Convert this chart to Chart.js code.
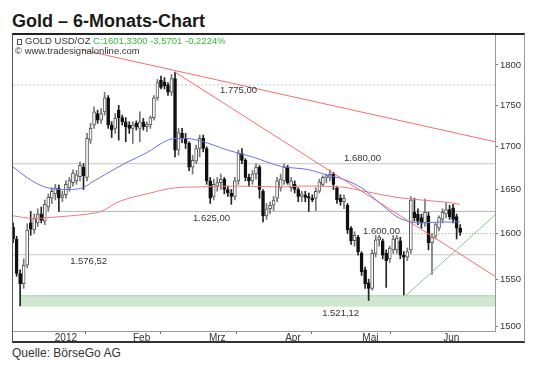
<!DOCTYPE html>
<html lang="de">
<head>
<meta charset="UTF-8" />
<title>Gold – 6-Monats-Chart</title>
<script src="https://cdn.jsdelivr.net/npm/chart.js"></script>
<style>
body {
  margin: 0;
  background: #fff;
  font-family: 'Liberation Sans', Arial, sans-serif;
}
#page { position: relative; width: 535px; height: 368px; overflow: hidden; }
h1 {
  position: absolute; left: 12px; top: 10px; margin: 0;
  font-size: 18px; line-height: 22px; font-weight: bold; color: #1a1a1a;
}
#frame {
  position: absolute; left: 12px; top: 33px; width: 513px; height: 310px;
  box-sizing: border-box;
  border-top: 2px solid #222; border-left: 1px solid #555;
  border-bottom: 2px solid #333; border-right: 1px solid #999;
  pointer-events: none; z-index: 2;
}
#chart { position: absolute; left: 13px; top: 35px; }
.legend {
  position: absolute; left: 16px; font-size: 9.5px; line-height: 11px;
  color: #333; white-space: nowrap; z-index: 3;
}
.legend .c { color: #33bb33; }
.ico {
  display: inline-block; width: 3px; height: 4px; border: 1px solid #555;
  margin: 0 3px 0 1px; vertical-align: -1px;
}
.source { position: absolute; left: 12px; top: 346px; font-size: 12px; line-height: 14px; color: #333; }
</style>
</head>
<body>
<div id="page">
  <h1>Gold – 6-Monats-Chart</h1>
  <canvas id="chart" width="511" height="306"></canvas>
  <div id="frame"></div>
  <div class="legend" style="top:35px"><span class="ico"></span>GOLD USD/OZ <span class="c">C:1601,3300 -3,5701 -0,2224%</span></div>
  <div class="legend" style="top:45px;left:15px">© www.tradesignalonline.com</div>
  <div class="source">Quelle: BörseGo AG</div>
</div>

<script>
// daily candles, index 0 = first trading day shown (late Dec 2011)
const opens = [
  1607,1594,1556,1545,1565,1612,1604,1612,1622,1614,1630,1640,1645,1651,1641,1644,1652,1658,1660,1665,
  1676,1664,1708,1726,1740,1732,1742,1759,1726,1722,1744,1735,1730,1726,1722,1728,1722,1730,1724,1726,
  1735,1759,1781,1779,1775,1766,1783,1696,1716,1710,1704,1676,1683,1698,1710,1698,1660,1642,1654,1658,
  1662,1650,1646,1642,1660,1692,1684,1664,1660,1668,1676,1648,1620,1628,1632,1640,1652,1660,1676,1652,
  1656,1650,1642,1644,1642,1640,1640,1648,1656,1664,1664,1668,1652,1640,1636,1632,1606,1592,1596,1578,
  1560,1546,1540,1578,1593,1592,1578,1572,1582,1582,1592,1576,1574,1582,1624,1622,1618,1612,1620,1590,
  1597,1606,1616,1622,1627,1629,1619,1606
];
const highs = [
  1612,1597,1560,1572,1611,1625,1622,1628,1630,1638,1645,1652,1656,1655,1648,1660,1664,1673,1672,1682,
  1680,1716,1728,1748,1744,1746,1766,1762,1730,1740,1750,1738,1735,1730,1730,1731,1742,1734,1730,1737,
  1762,1782,1786,1784,1778,1788,1791,1722,1722,1716,1706,1690,1702,1714,1714,1700,1664,1662,1664,1668,
  1664,1654,1650,1664,1696,1698,1686,1668,1672,1680,1678,1650,1634,1636,1642,1664,1668,1680,1678,1664,
  1660,1652,1648,1648,1646,1644,1652,1662,1666,1668,1673,1670,1654,1644,1644,1634,1608,1602,1598,1580,
  1563,1550,1582,1598,1598,1594,1582,1586,1598,1598,1596,1580,1584,1642,1640,1628,1622,1639,1624,1600,
  1612,1620,1628,1635,1632,1633,1622,1610
];
const lows = [
  1590,1553,1521.12,1540,1562,1598,1600,1608,1612,1610,1625,1634,1638,1625,1636,1640,1648,1654,1656,1660,
  1650,1660,1704,1722,1728,1728,1738,1722,1711,1716,1708,1726,1706,1716,1704,1720,1706,1720,1718,1722,
  1732,1756,1770,1770,1762,1762,1688,1690,1705,1698,1672,1668,1680,1688,1694,1656,1634,1638,1648,1650,
  1645,1642,1633,1638,1656,1680,1660,1654,1656,1662,1640,1613,1616,1622,1626,1636,1648,1656,1656,1648,
  1646,1636,1636,1636,1625,1636,1626,1646,1654,1658,1660,1650,1634,1632,1628,1600,1588,1586,1576,1554,
  1540,1527,1538,1574,1586,1572,1541,1568,1578,1578,1572,1533,1570,1578,1614,1610,1606,1608,1582,1555,
  1594,1603,1612,1618,1616,1612,1594,1598
];
const closes = [
  1594,1556,1545,1565,1604,1605,1617,1622,1615,1633,1641,1648,1652,1640,1644,1656,1661,1669,1667,1678,
  1666,1710,1722,1742,1732,1740,1759,1726,1720,1734,1735,1730,1724,1722,1726,1724,1730,1724,1727,1735,
  1759,1778,1772,1774,1766,1783,1696,1717,1710,1704,1676,1684,1698,1710,1698,1660,1640,1656,1658,1662,
  1650,1646,1642,1660,1692,1684,1664,1660,1668,1676,1650,1620,1628,1632,1638,1660,1662,1676,1658,1660,
  1650,1642,1645,1641,1640,1638,1648,1659,1664,1666,1668,1656,1638,1636,1640,1604,1592,1598,1580,1558,
  1545,1540,1578,1593,1596,1576,1570,1584,1594,1595,1576,1574,1580,1638,1618,1614,1612,1624,1590,1596,
  1610,1618,1624,1627,1619,1616,1606,1601.33
];

const monthStarts = [4, 26, 47, 69, 90, 113];
const monthCenters = [15, 36.5, 58, 79.5, 101.5, 124.5];
const monthNames = ['2012', 'Feb', 'Mrz', 'Apr', 'Mai', 'Jun'];
const priceTicks = [1500, 1550, 1600, 1650, 1700, 1750, 1800];

// moving averages
const maFastDays = [0, 5, 9, 14, 19, 23, 26, 32, 38, 43, 46, 49, 54, 61, 68, 76, 84, 89, 93, 99, 104, 109, 112, 116, 121, 127];
const maFastValues = [1676, 1661, 1653, 1650, 1651, 1660, 1667, 1681, 1693, 1706, 1710, 1710, 1706, 1696, 1688, 1677, 1673, 1667, 1663, 1652, 1635, 1619, 1614, 1612, 1613, 1613];
const maSlowDays = [0, 6, 13, 19, 25, 30, 39, 46, 53, 64, 76, 82, 93, 101, 109, 116, 124, 127];
const maSlowValues = [1620, 1617, 1619, 1621, 1625, 1636, 1646, 1652, 1653, 1654, 1653, 1654, 1653, 1647, 1641, 1638, 1635, 1633];

// horizontal levels
const levelValues = [1775, 1680, 1625, 1600, 1576.52];
const levelFrom = [0, 0, 13, 109, 0];
const levelTexts = ['1.775,00', '1.680,00', '1.625,00', '1.600,00', '1.576,52'];
const zoneLow = 1521.12;
const zoneHigh = 1532;
const zoneFrom = 2;
const zoneText = '1.521,12';

// trend lines
const xMin = -0.03;
const xMax = 136.9;
const trendUpperDays = [19.6, xMax];
const trendUpperValues = [1819, 1706];
const trendSteepDays = [46, xMax];
const trendSteepValues = [1791, 1553];
const trendSupportDays = [111.5, xMax];
const trendSupportValues = [1532, 1621];

const FONT = "'Liberation Sans', Arial, sans-serif";

const isUp = i => closes[i] >= opens[i];
const pts = (days, vals) => days.map((d, i) => ({ x: d, y: vals[i] }));
const flat = (from, v) => [{ x: from, y: v }, { x: xMax, y: v }];

function line(data, color, opts) {
  return Object.assign({
    type: 'line', data: data, borderColor: color, borderWidth: 1,
    pointRadius: 0, fill: false, order: 1
  }, opts || {});
}

const levelStyles = [
  { color: '#c4c4c4', dash: [2, 2] },
  { color: '#c4c4c4', dash: [] },
  { color: '#b4b4b4', dash: [] },
  { color: '#999999', dash: [1, 2] },
  { color: '#c8c8c8', dash: [] }
];

const datasets = [
  // bodies
  {
    type: 'bar',
    data: opens.map((o, i) => ({ x: i, y: [o, closes[i]] })),
    backgroundColor: ctx => isUp(ctx.dataIndex) ? '#ffffff' : '#111111',
    borderColor: ctx => isUp(ctx.dataIndex) ? '#555555' : '#111111',
    borderWidth: 1,
    borderSkipped: false,
    barThickness: 3,
    grouped: false,
    order: 3
  },
  // wicks
  {
    type: 'bar',
    data: lows.map((l, i) => ({ x: i, y: [l, highs[i]] })),
    backgroundColor: ctx => isUp(ctx.dataIndex) ? '#777777' : '#222222',
    borderWidth: 0,
    barThickness: 1,
    grouped: false,
    order: 4
  },
  line(pts(maFastDays, maFastValues), '#6f6fe8', { cubicInterpolationMode: 'monotone', order: 2 }),
  line(pts(maSlowDays, maSlowValues), '#f07878', { cubicInterpolationMode: 'monotone', order: 2 }),
  line(pts(trendUpperDays, trendUpperValues), '#f07070'),
  line(pts(trendSteepDays, trendSteepValues), '#f07070'),
  line(pts(trendSupportDays, trendSupportValues), '#8cc88c'),
  // support zone
  line(flat(zoneFrom, zoneHigh), '#a8cfa8', { fill: '+1', backgroundColor: '#cfe7cf', order: 6 }),
  line(flat(zoneFrom, zoneLow), '#c0dcc0', { order: 6 })
];

levelValues.forEach((v, i) => {
  datasets.push(line(flat(levelFrom[i], v), levelStyles[i].color,
    { borderDash: levelStyles[i].dash, order: 5 }));
});

// text notes next to the levels: [text, value, day for the left edge, baseline shift]
const notes = [
  [levelTexts[0], levelValues[0], 58.8, 8],
  [levelTexts[1], levelValues[1], 94, -3],
  [levelTexts[2], levelValues[2], 51.1, 10],
  [levelTexts[3], levelValues[3], 99.4, 0],
  [levelTexts[4], levelValues[4], 16.2, 9],
  [zoneText, zoneLow, 87.8, 10]
];

const notePlugin = {
  id: 'levelNotes',
  afterDatasetsDraw(chart) {
    const { ctx, scales } = chart;
    ctx.save();
    ctx.font = '9.5px ' + FONT;
    ctx.fillStyle = '#333';
    ctx.textBaseline = 'alphabetic';
    notes.forEach(n => {
      ctx.fillText(n[0], scales.x.getPixelForValue(n[2]), scales.y.getPixelForValue(n[1]) + n[3]);
    });
    ctx.restore();
  }
};

function noPad(s) {
  s.paddingTop = 0;
  s.paddingBottom = 0;
  s.paddingLeft = 0;
  s.paddingRight = 0;
}

new Chart(document.getElementById('chart'), {
  type: 'bar',
  data: { datasets: datasets },
  options: {
    responsive: false,
    devicePixelRatio: 1,
    animation: false,
    layout: { padding: 0 },
    plugins: { legend: { display: false }, tooltip: { enabled: false } },
    scales: {
      x: {
        type: 'linear',
        min: xMin,
        max: xMax,
        offset: false,
        afterBuildTicks: s => {
          s.ticks = monthStarts.concat(monthCenters).sort((a, b) => a - b).map(v => ({ value: v }));
        },
        afterFit: s => { s.height = 10; noPad(s); },
        grid: {
          drawOnChartArea: false,
          tickLength: 3,
          tickColor: c => (c.tick && monthStarts.includes(c.tick.value)) ? '#666' : 'rgba(0,0,0,0)'
        },
        border: { color: '#999' },
        ticks: {
          autoSkip: false,
          maxRotation: 0,
          padding: -2,
          color: '#333',
          font: { size: 10, family: FONT },
          callback: v => {
            const k = monthCenters.indexOf(v);
            return k >= 0 ? monthNames[k] : '';
          }
        }
      },
      y: {
        type: 'logarithmic',
        position: 'right',
        min: 1494.8,
        max: 1838,
        afterBuildTicks: s => { s.ticks = priceTicks.map(v => ({ value: v })); },
        afterFit: s => { s.width = 29; noPad(s); },
        grid: { drawOnChartArea: false, tickLength: 3, color: '#777' },
        border: { color: '#999' },
        ticks: {
          autoSkip: false,
          padding: 2,
          color: '#333',
          font: { size: 9.5, family: FONT },
          callback: v => String(v)
        }
      }
    }
  },
  plugins: [notePlugin]
});
</script>
</body>
</html>
